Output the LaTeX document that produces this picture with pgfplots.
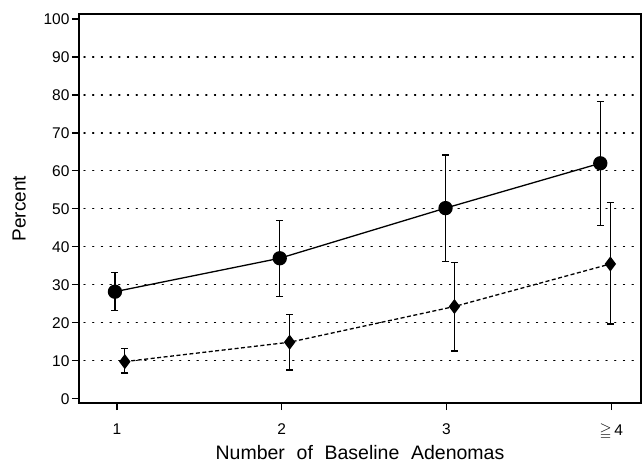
\documentclass[border=0pt]{standalone}
\usepackage{pgfplots}
\pgfplotsset{compat=1.18}
\usepackage{amssymb}
\usepackage{fontspec}
\setmainfont{Liberation Sans}
\begin{document}
\begin{tikzpicture}
\begin{axis}[
  scale only axis,
  width=562pt, height=389pt,
  xmin=0.77, xmax=4.18,
  ymin=-1.1, ymax=101.3,
  axis line style={line width=1.3pt},
  tick style={line width=1.2pt, black},
  tick align=outside,
  major tick length=7pt,
  xtick={1,2,3,4},
  xticklabels={1,2,3,{$\geqq$\,4}},
  ytick={0,10,...,100},
  xtick pos=bottom, ytick pos=left,
  /pgf/number format/assume math mode=true,
  tick label style={font=\fontsize{15.5}{18}\selectfont},
  xticklabel style={yshift=-10pt},
  yticklabel style={xshift=1pt},
  xlabel={Number\hspace{0.6em}of\hspace{0.6em}Baseline\hspace{0.6em}Adenomas},
  ylabel={Percent},
  xlabel style={font=\fontsize{19.5}{22}\selectfont, yshift=1pt},
  ylabel style={font=\fontsize{19}{22}\selectfont, yshift=11pt},
  clip=false,
]
% dotted gridlines
\pgfplotsinvokeforeach{10,20,...,90}{
  \draw[line width=1.2pt, dash pattern=on 1.2pt off 7.5pt, line cap=round] (axis cs:0.80,#1) -- (axis cs:4.17,#1);
}
\addplot[black, line width=1.3pt, mark=*, mark size=6.5pt,
  error bars/.cd, y dir=both, y explicit,
  error bar style={line width=1.2pt},
  error mark options={rotate=90, mark size=3.5pt, line width=1.2pt}]
  coordinates {
  (0.988,28.2) +- (0,5.0)
  (1.988,37.0) +- (0,10)
  (2.994,50.2) +- (0,14)
  (3.933,62.0) +- (0,16.3)
  };
\addplot[black, line width=1.3pt, dash pattern=on 4pt off 2.5pt, mark=diamond*, mark size=6.5pt,
  mark options={solid},
  error bars/.cd, y dir=both, y explicit,
  error bar style={line width=1.2pt, solid},
  error mark options={rotate=90, mark size=3.5pt, line width=1.2pt, solid}]
  coordinates {
  (1.048,9.8) += (0,3.5) -= (0,3.0)
  (2.048,14.9) += (0,7.2) -= (0,7.3)
  (3.048,24.3) += (0,11.6) -= (0,11.7)
  (3.994,35.5) += (0,16.2) -= (0,15.8)
  };
\end{axis}
\path (current axis.south west) ++(-79pt,-62pt);
\path (current axis.north east) ++(3pt,14pt);
\end{tikzpicture}
\end{document}
